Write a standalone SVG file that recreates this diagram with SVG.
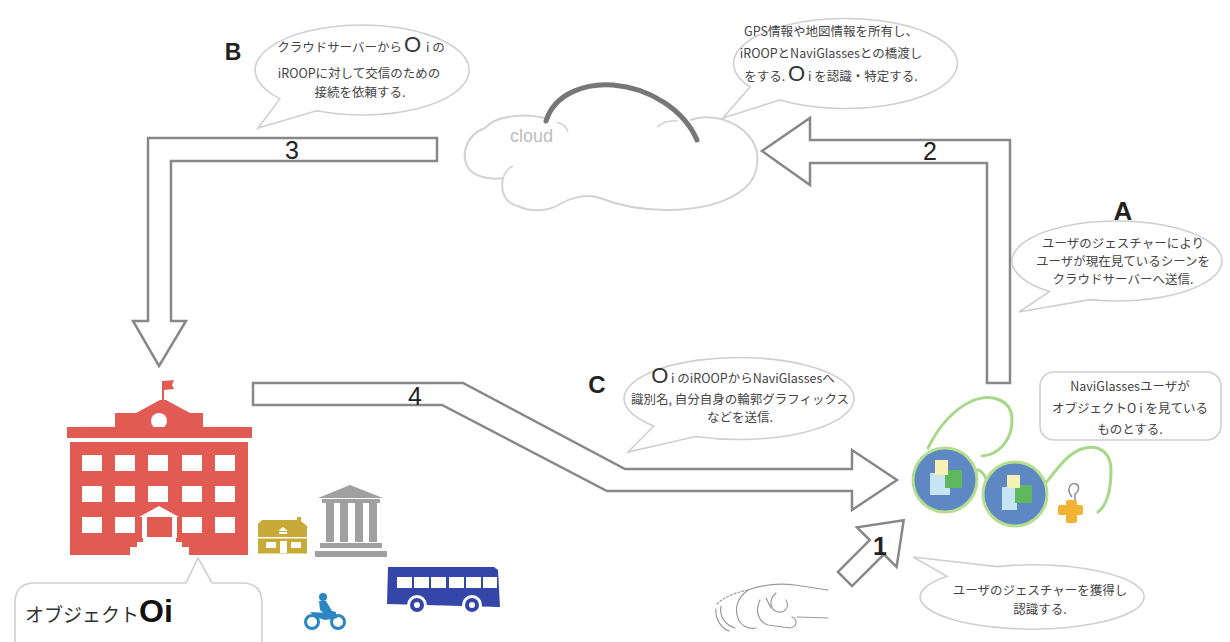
<svg xmlns="http://www.w3.org/2000/svg" width="1230" height="642" viewBox="0 0 1230 642">
  <style>
    .jp { font-family: "Noto Sans CJK JP", "Noto Sans", sans-serif; font-size: 12.5px; fill: #444; text-anchor: middle; }
    .big { font-family: "Liberation Sans", Arial, sans-serif; font-size: 22px; fill: #333; }
    .letter { font-family: "Liberation Sans", Arial, sans-serif; font-weight: bold; fill: #222; text-anchor: middle; }
    .num { font-family: "Liberation Sans", Arial, sans-serif; fill: #222; text-anchor: middle; font-size: 25px; }
    .bubble { fill: #fff; stroke: #cfcfcf; stroke-width: 1.6; }
    .arrow { fill: #fff; stroke: #888; stroke-width: 2.5; stroke-linejoin: miter; }
    .red { fill: #e25b52; }
    .white { fill: #fff; }
    .temple { fill: none; stroke: #a8d889; stroke-width: 3; stroke-linecap: round; }
    .hand { fill: none; stroke: #999; stroke-width: 1.2; stroke-linecap: round; }
  </style>

  <rect width="1230" height="642" fill="#fff"/>

  <!-- cloud server -->
  <g id="cloud">
    <path d="M 548,119 C 525,112 495,116 485,128 C 465,135 458,160 472,172 C 480,178 495,180 503,178 C 500,192 505,203 518,206 C 530,212 548,212 560,204 C 570,198 585,194 597,197 C 615,204 640,210 665,210 C 695,210 725,205 745,188 C 760,175 762,150 748,135 C 735,120 710,113 690,120" fill="#fff" stroke="#d2d2d2" stroke-width="2"/>
    <path d="M 503,178 C 505,172 508,168 513,166" fill="none" stroke="#d2d2d2" stroke-width="1.6"/>
    <path d="M 557,122 C 563,124 567,128 568,132" fill="none" stroke="#d2d2d2" stroke-width="1.6"/>
    <path d="M 657,127 C 663,122 670,120 678,121" fill="none" stroke="#d2d2d2" stroke-width="1.6"/>
    <path d="M 546,121 C 555,92 588,83 613,85 C 650,88 684,110 697,140" fill="none" stroke="#777" stroke-width="5" stroke-linecap="round"/>
    <text x="510" y="142" font-family="Liberation Sans, Arial, sans-serif" font-size="18" fill="#bdbdbd">cloud</text>
  </g>

  <!-- step arrows -->
  <g id="connectors">
    <path class="arrow" d="M 437,138 L 148,138 L 148,321 L 133,321 L 159,366 L 186,321 L 171,321 L 171,161 L 437,161 Z"/>
    <path class="arrow" d="M 987,383 L 1010,383 L 1010,140 L 810,140 L 810,118 L 762,151 L 810,185 L 810,163 L 987,163 Z"/>
    <path class="arrow" d="M 253,383 L 463,383 L 625,469 L 852,469 L 852,450 L 897,480 L 852,510 L 852,491 L 607,491 L 442,405 L 253,405 Z"/>
    <path class="arrow" transform="translate(845,579) rotate(-45)" d="M 0,-10 L 45,-10 L 45,-28 L 83,0 L 45,28 L 45,10 L 0,10 Z"/>
    <text class="num" x="292" y="159">3</text>
    <text class="num" x="930" y="160">2</text>
    <text class="num" x="415" y="405">4</text>
    <text class="num" x="880" y="555" font-weight="bold">1</text>
  </g>

  <!-- B: connection request -->
  <g id="bubble-b">
    <text class="letter" x="233" y="60" font-size="23">B</text>
    <path class="bubble" d="M 316.7,110.8 A 107 45 0 1 0 280,98.9 L 258,128 Z"/>
    <text class="jp" x="361" y="52">クラウドサーバーから<tspan class="big" dx="2">O</tspan><tspan dx="2"> i の</tspan></text>
    <text class="jp" x="359" y="78">iROOPに対して交信のための</text>
    <text class="jp" x="360" y="97">接続を依頼する.</text>
  </g>

  <!-- cloud server role -->
  <g id="bubble-gps">
    <path class="bubble" d="M 780,100 A 112 45 0 1 0 750,87 L 723,118 Z"/>
    <text class="jp" x="831" y="36">GPS情報や地図情報を所有し、</text>
    <text class="jp" x="831" y="58">iROOPとNaviGlassesとの橋渡し</text>
    <text class="jp" x="831" y="81">をする. <tspan class="big">O</tspan> i を認識・特定する.</text>
  </g>

  <!-- A: scene upload -->
  <g id="bubble-a">
    <text class="letter" x="1123" y="220" font-size="26">A</text>
    <path class="bubble" d="M 1089.8,299.6 A 105 40 0 1 0 1049.5,291.6 L 1019,312 Z"/>
    <text class="jp" x="1123" y="248">ユーザのジェスチャーにより</text>
    <text class="jp" x="1123" y="266">ユーザが現在見ているシーンを</text>
    <text class="jp" x="1123" y="284">クラウドサーバーへ送信.</text>
  </g>

  <!-- C: outline graphics -->
  <g id="bubble-c">
    <text class="letter" x="597" y="393" font-size="24">C</text>
    <path class="bubble" d="M 695.7,436.5 A 115 41 0 1 0 653.7,426 L 628,452 Z"/>
    <text class="jp" x="743" y="383"><tspan class="big">O</tspan> i のiROOPからNaviGlassesへ</text>
    <text class="jp" x="740" y="404">識別名, 自分自身の輪郭グラフィックス</text>
    <text class="jp" x="740" y="422">などを送信.</text>
  </g>

  <!-- NaviGlasses user note -->
  <g id="note-user">
    <rect class="bubble" x="1040" y="372" width="181" height="68" rx="14"/>
    <text class="jp" x="1130" y="391">NaviGlassesユーザが</text>
    <text class="jp" x="1130" y="413">オブジェクトO i を見ている</text>
    <text class="jp" x="1130" y="434">ものとする.</text>
  </g>

  <!-- gesture recognition -->
  <g id="bubble-gesture">
    <path class="bubble" d="M 947,576.2 A 112 32 0 1 0 997,566.6 L 913,557 Z"/>
    <text class="jp" x="1040" y="595">ユーザのジェスチャーを獲得し</text>
    <text class="jp" x="1040" y="614">認識する.</text>
  </g>

  <!-- object Oi label -->
  <g id="label-object">
    <path class="bubble" d="M 35,583 L 186,583 L 198,558 L 212,583 L 242,583 Q 262,583 262,603 L 262,660 L 15,660 L 15,603 Q 15,583 35,583 Z"/>
    <text x="25" y="622" font-family="Noto Sans CJK JP, sans-serif" font-size="19" fill="#333">オブジェクト<tspan font-family="Liberation Sans, Arial, sans-serif" font-weight="bold" font-size="32" fill="#111">Oi</tspan></text>
  </g>

  <!-- object Oi: school building -->
  <g id="school">
    <rect class="red" x="162" y="381" width="2" height="21"/>
    <path class="red" d="M 164,381 L 174,380 L 172,385 L 174,389 L 164,390 Z"/>
    <path class="red" d="M 115,428 L 115,413 L 136,413 L 160,400 L 166,400 L 190,413 L 203,413 L 203,428 Z"/>
    <circle class="white" cx="159" cy="421" r="8"/>
    <rect class="red" x="67" y="427" width="185" height="11"/>
    <rect class="red" x="70" y="442" width="178" height="113"/>
    <g class="white">
      <rect x="82" y="455" width="20" height="16"/><rect x="115" y="455" width="20" height="16"/><rect x="148" y="455" width="20" height="16"/><rect x="182" y="455" width="20" height="16"/><rect x="215" y="455" width="20" height="16"/>
      <rect x="82" y="486" width="20" height="16"/><rect x="115" y="486" width="20" height="16"/><rect x="148" y="486" width="20" height="16"/><rect x="182" y="486" width="20" height="16"/><rect x="215" y="486" width="20" height="16"/>
      <rect x="82" y="517" width="20" height="16"/><rect x="115" y="517" width="20" height="16"/><rect x="182" y="517" width="20" height="16"/><rect x="215" y="517" width="20" height="16"/>
      <path d="M 139,517 L 159,506 L 179,517 Z"/>
      <rect x="142" y="517" width="5" height="21"/>
      <rect x="172" y="517" width="5" height="21"/>
      <path d="M 143,537 L 176,537 L 176,542 L 182,542 L 182,547 L 189,547 L 189,556 L 130,556 L 130,547 L 137,547 L 137,542 L 143,542 Z"/>
    </g>
  </g>

  <!-- surrounding objects -->
  <g id="house">
    <path d="M 258,537 L 258,524 L 262,520 L 297,520 L 297,517 L 301,517 L 301,521 L 307,526 L 307,537 Z" fill="#c8aa38"/>
    <rect x="258" y="538.5" width="49" height="15" fill="#c8aa38"/>
    <path d="M 278,531 L 283,527 L 288,531 Z M 279,532 L 287,532 L 287,534 L 279,534 Z" fill="#fff"/>
    <rect x="266" y="542" width="10" height="6" fill="#fff"/>
    <rect x="280" y="541" width="7" height="12" fill="#fff"/>
    <rect x="291" y="542" width="10" height="6" fill="#fff"/>
  </g>

  <g id="museum" fill="#a0a0a0">
    <path d="M 318,498 L 350,485 L 383,498 Z"/>
    <rect x="322" y="499" width="58" height="4"/>
    <rect x="326" y="503" width="8" height="39"/>
    <rect x="340" y="503" width="8" height="39"/>
    <rect x="355" y="503" width="8" height="39"/>
    <rect x="369" y="503" width="8" height="39"/>
    <rect x="320" y="543" width="62" height="5"/>
    <rect x="315" y="551" width="72" height="6"/>
  </g>

  <g id="bus">
    <path d="M 388,567 L 494,567 L 498,570 L 500,607 L 387,604 Z" fill="#3447a8"/>
    <g fill="#fff">
      <rect x="397" y="577" width="15" height="11"/><rect x="414" y="577" width="15" height="11"/><rect x="431" y="577" width="15" height="11"/><rect x="449" y="577" width="15" height="11"/><rect x="466" y="577" width="15" height="11"/><rect x="483" y="577" width="14" height="11"/>
      <circle cx="417" cy="605" r="10"/><circle cx="472" cy="605" r="10"/>
    </g>
    <circle cx="417" cy="605" r="7" fill="#3447a8"/>
    <circle cx="472" cy="605" r="7" fill="#3447a8"/>
    <circle cx="417" cy="605" r="3" fill="#fff"/>
    <circle cx="472" cy="605" r="3" fill="#fff"/>
  </g>

  <g id="motorcycle" fill="#2b86c2">
    <circle cx="323" cy="597" r="4"/>
    <path d="M 319,601 L 326,601 L 332,611 L 336,612 L 336,616 L 327,616 L 320,610 Z"/>
    <path d="M 310,612 L 330,613 L 338,618 L 325,620 L 315,617 Z"/>
    <circle cx="312" cy="622" r="6.5" fill="none" stroke="#2b86c2" stroke-width="3"/>
    <circle cx="338" cy="622" r="6.5" fill="none" stroke="#2b86c2" stroke-width="3"/>
  </g>

  <!-- NaviGlasses -->
  <g id="naviglasses">
    <path class="temple" d="M 928,448 C 938,428 952,410 972,401 C 992,393 1011,400 1012,418 C 1013,438 1000,455 982,456"/>
    <path class="temple" d="M 1045,484 C 1058,468 1068,452 1085,448 C 1100,445 1111,453 1111,470 C 1111,490 1107,505 1098,512"/>
    <path class="temple" d="M 975,470 Q 982,468 987,481"/>
    <circle cx="945" cy="480" r="32" fill="#5d88c4" stroke="#b5df8e" stroke-width="3"/>
    <circle cx="1015" cy="494" r="32" fill="#5d88c4" stroke="#b5df8e" stroke-width="3"/>
    <rect x="930" y="473" width="20" height="22" fill="#c5e5f2"/>
    <rect x="945" y="470" width="17" height="18" fill="#5fb85e"/>
    <rect x="935" y="460" width="13" height="15" fill="#f7f1b5"/>
    <rect x="1002" y="487" width="15" height="23" fill="#c5e5f2"/>
    <rect x="1015" y="485" width="17" height="18" fill="#5fb85e"/>
    <rect x="1007" y="475" width="13" height="13" fill="#f7f1b5"/>
    <path d="M 1072,497 C 1066,490 1070,482 1076,484 C 1080,486 1079,492 1075,494 L 1075,502" fill="none" stroke="#888" stroke-width="1.4"/>
    <rect x="1066" y="500" width="11" height="23" rx="2" fill="#f2b233"/>
    <rect x="1058" y="505" width="25" height="10" rx="2" fill="#f2b233"/>
  </g>

  <!-- user's hand gesture -->
  <g id="hand">
    <path class="hand" d="M 748,590 C 762,585 780,583 795,585 L 828,590"/>
    <path class="hand" d="M 717,604 C 725,596 738,592 748,590" stroke-dasharray="2 2"/>
    <path class="hand" d="M 748,590 C 740,596 735,605 737,615 C 739,625 748,630 756,628"/>
    <path class="hand" d="M 721,606 C 719,616 725,625 735,628"/>
    <path class="hand" d="M 716,609 C 715,619 721,628 729,631" stroke="#bbb"/>
    <path class="hand" d="M 776,593 C 768,600 770,610 778,612 C 785,613 790,607 786,600"/>
    <path class="hand" d="M 760,600 C 755,610 758,622 768,625 L 790,628 C 797,627 798,620 792,617"/>
    <path class="hand" d="M 797,617 L 828,618"/>
    <path class="hand" d="M 766,598 L 771,608"/>
  </g>
</svg>
